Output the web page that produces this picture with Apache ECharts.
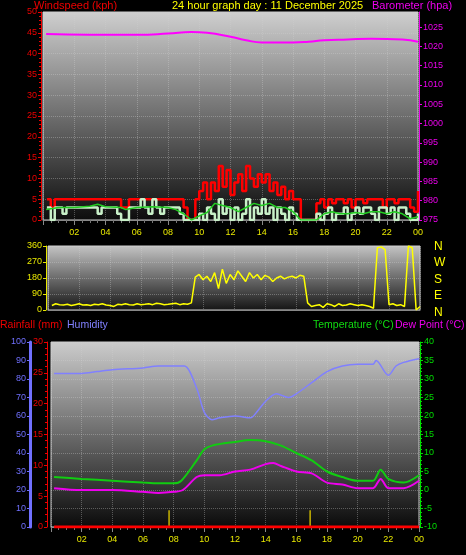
<!doctype html>
<html lang="en">
<head>
    <meta charset="utf-8">
    <title>24 hour graph</title>
    <script src="https://cdn.jsdelivr.net/npm/echarts@6/dist/echarts.min.js"></script>
    <style>
        body { margin:0; background:#000; }
        #chart { width:466px; height:555px; }
    </style>
</head>
<body>
<div id="chart"></div>
<script type="text/javascript">
    // 15 minute samples from 0.25h to 24h
    var gust = [5,3,5,5, 5,5,5,5, 5,5,5,5, 5,5,5,5, 5,5,5,3, 3,5,5,5, 5,5,5,5, 5,5,5,5, 5,5,5,3,
                0,0,5,7, 9,5,9,7, 13,8,12,6, 9,11,7,13, 10,8,11,9, 11,7,9,6, 8,5,7,5, 5,0,0,0,
                0,4,5,3, 5,4,5,5, 4,5,3,5, 5,4,5,5, 5,5,3,5, 5,4,5,5, 5,3,2,7];
    var speed = [3,0,3,3, 1.5,3,3,3, 3,3,3,3, 3,1.5,3,3, 3,3,1.5,0, 0,3,3,3, 5,3,1.5,5, 3,1.5,3,3, 3,3,1.5,0,
                 0,0,0,1.5, 0,3,1.5,0, 5,1.5,3,0, 3,0,1.5,5, 0,3,1.5,5, 1.5,3,0,3, 1.5,0,3,1.5, 0,0,0,0,
                 0,1.5,0,1.5, 3,0,1.5,1.5, 3,0,1.5,3, 1.5,3,3,1.5, 0,3,3,1.5, 3,0,3,3, 1.5,0,0,1.5];
    var windDir = [25,35,30,28, 32,25,30,35, 28,30,25,32, 30,35,28,25, 20,32,30,35, 30,28,35,30,
                   32,35,30,38, 35,30,32,35, 38,30,35,32, 40,185,200,170, 190,160,210,120, 230,150,200,170,
                   220,190,160,210, 180,200,170,195, 185,160,180,190, 175,185,190,180, 195,190,40,20,
                   25,30,15,35, 30,20,35,25, 28,35,30,25, 30,25,20,10, 350,355,340,30, 35,25,30,20, 360,350,0,20];

    var avgTimes = [0.2,1,2,3,3.5,4,5,5.3,6,7,8,8.5,9,9.5,10,10.5,11,11.5,12,12.5,13,13.5,14,14.5,15,15.5,16,16.5,17,17.5,18,18.5,19,19.5,20,20.5,21,21.5,22,22.5,23,23.5,24];
    var avgSpeed = [2.5,3,3,3.3,3.8,3.2,3,2.5,3,3.2,3,2.5,1.5,0,1,1.8,4,3.5,3,2,3,4,3.5,4,3,3,2,0,0,0,1.5,2,1.5,1.5,1.8,1.5,2,2,1.5,2,1.5,0.3,0.8];

    var baroTimes = [0.2,3,6,8,9.5,10.5,12,13,14,16,17,18,19.5,21,23,24];
    var baro = [1023.2,1023.0,1023.0,1023.3,1023.7,1023.5,1022.5,1021.6,1021.0,1021.0,1021.2,1021.6,1021.8,1022.0,1021.8,1021.2];

    var humTimes = [0.2,2,3,4,6,7,8,8.7,9.5,10,10.5,11,12,13,13.5,14,14.7,15.5,16,17,18,19,20,21,21.2,22,22.5,23,24];
    var humidity = [83,83,84,85,86,87,87,87,75,62,58,59,60,59,63,68,72,70,72,78,84,87,88,88,90,82,87,89,91];

    var tempTimes = [0.2,2,4,6,7,8,8.5,9.5,10,10.5,12,13,14,15,16,17,18,19,20,21,21.5,22,23,24];
    var temperature = [3.5,3,2.5,2,1.8,1.8,2.5,8,11,12,13,13.5,13.2,12,10,8,5,3.5,2.5,2.5,5.5,3,2,4];
    var dewTimes = [0.2,2,4,6,7,8,8.6,9.5,10,11,12,13,14,14.5,15,16,17,18,19,20,21,21.5,22,23,24];
    var dewPoint = [0.5,0,0,-0.5,-0.8,-0.5,0,3.5,4,4,5,5.5,7,7.3,6.5,5,4.5,2,1.5,0.5,0.5,3,0.5,0.5,2.5];

    var rainTimes = [0.2,24];
    var rainfall = [0,0];
    var sunMarks = [7.7,16.9];

    function pairs(ts, vs) { return ts.map(function (t, i) { return [t, vs[i]]; }); }
    function quarter(vs) { return vs.map(function (v, i) { return [(i + 1) * 0.25, v]; }); }
    var markData = [];
    sunMarks.forEach(function (t) { markData.push([t, -10], [t, -5.5], [t, null]); });

    var bg = function (a, b) {
        return { type:'linear', x:0, y:0, x2:0, y2:1, colorStops:[{offset:0, color:a}, {offset:1, color:b}] };
    };
    var font = 'Liberation Sans';
    var plain = function (v) { return String(v); };
    var split = { show:true, lineStyle:{ color:'rgba(210,210,210,0.35)', type:'dotted' } };
    function xAx(idx, show) {
        return {
            type:'value', gridIndex:idx, min:0, max:24, interval:2,
            axisLine:{ lineStyle:{ color:'#888' } },
            axisTick:{ show:show, lineStyle:{ color:'#888' } },
            minorTick:{ show:show, splitNumber:4, lineStyle:{ color:'#777' } },
            axisLabel:{ show:show, color:'#e8e800', fontSize:9, fontFamily:font,
                formatter:function (v) { if (v === 0) return ''; var h = v % 24; return (h < 10 ? '0' : '') + h; } },
            splitLine:split
        };
    }
    function yAx(idx, opt) {
        var c = opt.color;
        return Object.assign({
            type:'value', gridIndex:idx, position:'left',
            axisLine:{ show:true, onZero:false, lineStyle:{ color:c, width:opt.w || 1 } },
            axisTick:{ show:true, length:3, lineStyle:{ color:c } },
            minorTick:{ show:true, splitNumber:5, length:2, lineStyle:{ color:c } },
            axisLabel:{ color:c, fontSize:9, fontFamily:font, margin:4, formatter:plain },
            splitLine:{ show:false }
        }, opt.extra);
    }

    var myChart = echarts.init(document.getElementById('chart'));
    var option = {
        backgroundColor:'#000',
        animation:false,
        textStyle:{ fontFamily:font },
        grid:[
            { left:43, right:48, top:12, height:208, show:true, borderColor:'#ccc', backgroundColor:bg('#cfcfcf', '#0c0c0c') },
            { left:48, right:46, top:246, height:64, show:true, borderColor:'#ccc', backgroundColor:bg('#c4c4c4', '#141414') },
            { left:51, right:47, top:342, height:185, show:true, borderColor:'#ccc', backgroundColor:bg('#cccccc', '#0a0a0a') }
        ],
        xAxis:[ xAx(0, true), xAx(1, false), xAx(2, true) ],
        yAxis:[
            yAx(0, { color:'#ee0000', extra:{ min:0, max:50, interval:5, offset:2, splitLine:split } }),
            yAx(0, { color:'#ee00ee', extra:{ position:'right', min:975, max:1028.9, interval:5, offset:1,
                minorTick:{ show:false }, axisLabel:{ color:'#ee00ee', fontSize:9, fontFamily:font, margin:4, showMaxLabel:false, formatter:plain } } }),
            yAx(1, { color:'#e8e800', extra:{ min:0, max:360, interval:90, offset:2, minorTick:{ show:false }, splitLine:split } }),
            yAx(2, { color:'#7070ff', w:3, extra:{ min:0, max:100, interval:10, offset:21, minorTick:{ show:false } } }),
            yAx(2, { color:'#ee0000', extra:{ min:0, max:30, interval:5, offset:4 } }),
            yAx(2, { color:'#00dd00', extra:{ position:'right', min:-10, max:40, interval:5, offset:1, splitLine:split } })
        ],
        series:[
            { type:'line', xAxisIndex:0, yAxisIndex:0, step:'end', symbol:'none', data:quarter(gust),
              lineStyle:{ color:'#ff0000', width:2.5 } },
            { type:'line', xAxisIndex:0, yAxisIndex:0, step:'end', symbol:'none', data:quarter(speed),
              lineStyle:{ color:'#c8f0c8', width:2.5 } },
            { type:'line', xAxisIndex:0, yAxisIndex:0, symbol:'none', data:pairs(avgTimes, avgSpeed),
              lineStyle:{ color:'#22cc22', width:1.5 } },
            { type:'line', xAxisIndex:0, yAxisIndex:1, smooth:true, symbol:'none', data:pairs(baroTimes, baro),
              lineStyle:{ color:'#ff00ff', width:2 } },
            { type:'line', xAxisIndex:1, yAxisIndex:2, symbol:'none', data:quarter(windDir),
              lineStyle:{ color:'#ffff00', width:1.5 } },
            { type:'line', xAxisIndex:2, yAxisIndex:3, smooth:0.3, symbol:'none', data:pairs(humTimes, humidity),
              lineStyle:{ color:'#8080ff', width:1.5 } },
            { type:'line', xAxisIndex:2, yAxisIndex:5, smooth:0.3, symbol:'none', data:pairs(tempTimes, temperature),
              lineStyle:{ color:'#11cc11', width:2 } },
            { type:'line', xAxisIndex:2, yAxisIndex:5, smooth:0.3, symbol:'none', data:pairs(dewTimes, dewPoint),
              lineStyle:{ color:'#ee00ee', width:2 } },
            { type:'line', xAxisIndex:2, yAxisIndex:4, symbol:'none', data:pairs(rainTimes, rainfall), z:5,
              lineStyle:{ color:'#ff0000', width:3 } },
            { type:'line', xAxisIndex:2, yAxisIndex:5, symbol:'none', data:markData, connectNulls:false,
              lineStyle:{ color:'#c8b400', width:1.5 } }
        ],
        graphic:[
            { type:'text', left:34, top:0, style:{ text:'Windspeed (kph)', fill:'#ee0000', font:'11px ' + font } },
            { type:'text', left:172, top:0, style:{ text:'24 hour graph day : 11 December 2025', fill:'#ffff00', font:'11px ' + font } },
            { type:'text', left:372, top:0, style:{ text:'Barometer (hpa)', fill:'#ee00ee', font:'11px ' + font } },
            { type:'text', left:434, top:238, style:{ text:'N\nW\nS\nE\nN', fill:'#ffff00', font:'12px ' + font, lineHeight:16.5 } },
            { type:'text', left:0, top:320, style:{ text:'Rainfall (mm)', fill:'#ee0000', font:'10.5px ' + font } },
            { type:'text', left:67, top:320, style:{ text:'Humidity', fill:'#8080ff', font:'10.5px ' + font } },
            { type:'text', left:313, top:320, style:{ text:'Temperature (°C)', fill:'#11dd11', font:'10.5px ' + font } },
            { type:'text', left:395, top:320, style:{ text:'Dew Point (°C)', fill:'#ee00ee', font:'10.5px ' + font } }
        ]
    };
    myChart.setOption(option);
</script>
</body>
</html>
